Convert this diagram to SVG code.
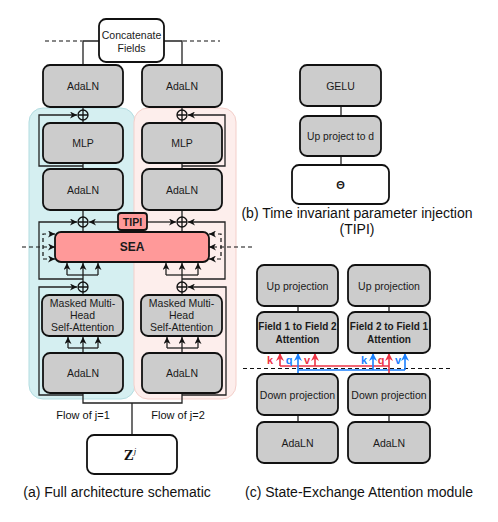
<svg xmlns="http://www.w3.org/2000/svg" width="498" height="522" viewBox="0 0 498 522">
<defs>
<style>
.box{fill:#cccccc;stroke:#111;stroke-width:1.8}
.wbox{fill:#ffffff;stroke:#111;stroke-width:1.8}
.sea{fill:#ff9999;stroke:#111;stroke-width:1.8}
.ln{fill:none;stroke:#222;stroke-width:1.3}
.dash{fill:none;stroke:#111;stroke-width:1.2;stroke-dasharray:4 3}
.red{fill:none;stroke:#ee3344;stroke-width:1.6}
.blue{fill:none;stroke:#1a80ff;stroke-width:1.6}
.t{font-family:"Liberation Sans",Arial,sans-serif;font-size:10.5px;fill:#1a1a1a;text-anchor:middle;dominant-baseline:central}
.tb{font-family:"Liberation Sans",Arial,sans-serif;font-size:10px;font-weight:bold;fill:#1a1a1a;text-anchor:middle;dominant-baseline:central}
.cap{font-family:"Liberation Sans",Arial,sans-serif;font-size:14px;fill:#111;text-anchor:middle;dominant-baseline:central}
.flow{font-family:"Liberation Sans",Arial,sans-serif;font-size:11px;fill:#111;text-anchor:middle;dominant-baseline:central}
.kr{font-family:"Liberation Sans",Arial,sans-serif;font-size:11px;font-weight:bold;fill:#ee3344;text-anchor:middle;dominant-baseline:central}
.kb{font-family:"Liberation Sans",Arial,sans-serif;font-size:11px;font-weight:bold;fill:#1a80ff;text-anchor:middle;dominant-baseline:central}
.plus{fill:none;stroke:#111;stroke-width:1.3}
</style>
<marker id="arr" viewBox="0 0 10 10" refX="10" refY="5" markerWidth="7" markerHeight="7" markerUnits="userSpaceOnUse" orient="auto"><path d="M0,0 L10,5 L0,10 L3,5 z" fill="#111"/></marker>
<marker id="arrR" viewBox="0 0 10 10" refX="10" refY="5" markerWidth="8" markerHeight="8" markerUnits="userSpaceOnUse" orient="auto"><path d="M0,0 L10,5 L0,10 L3,5 z" fill="#ee3344"/></marker>
<marker id="arrB" viewBox="0 0 10 10" refX="10" refY="5" markerWidth="8" markerHeight="8" markerUnits="userSpaceOnUse" orient="auto"><path d="M0,0 L10,5 L0,10 L3,5 z" fill="#1a80ff"/></marker>
<g id="plusSym"><circle cx="0" cy="0" r="5" class="plus"/><path d="M-5,0 H5 M0,-5 V5" class="plus"/></g>
</defs>
<rect width="498" height="522" fill="#ffffff"/>

<!-- backgrounds -->
<g id="bg">
<rect x="29" y="108" width="106" height="291" rx="14" fill="#d5eff1" stroke="#b3dde1" stroke-width="1"/>
<rect x="134" y="108" width="102" height="291" rx="14" fill="#fdeeec" stroke="#f3cfca" stroke-width="1"/>
</g>

<!-- connectors -->
<g id="connectors">
<!-- dashed separators -->
<path class="dash" d="M45,41 H82 M183,41 H220"/>
<path class="dash" d="M22,247 H53"/>
<path class="dash" d="M252,247 H211"/>
<path class="dash" d="M243,368.5 H452"/>
<!-- concatenate -->
<path class="ln" d="M99,41 H83 V65 M164,41 H182 V65"/>
<!-- left column -->
<path class="ln" d="M83,107 V110 M83,120 V123 M83,163 V169 M83,210 V217 M83,227 V232 M83,282 V275 M83,292 V295 M83,353 V348"/>
<path class="ln" d="M83,166 H39 V115 H77" marker-end="url(#arr)"/>
<path class="ln" d="M83,279 H39 V222 H77" marker-end="url(#arr)"/>
<path class="ln" d="M83,395 H39 V287 H77" marker-end="url(#arr)"/>
<path class="ln" d="M118,222 H89" marker-end="url(#arr)"/>
<path class="ln" d="M67,275 H98"/>
<path class="ln" d="M67,275 V263" marker-end="url(#arr)"/>
<path class="ln" d="M83,275 V263" marker-end="url(#arr)"/>
<path class="ln" d="M98,275 V263" marker-end="url(#arr)"/>
<path class="ln" d="M68,348 H98"/>
<path class="ln" d="M68,348 V337" marker-end="url(#arr)"/>
<path class="ln" d="M83,348 V337" marker-end="url(#arr)"/>
<path class="ln" d="M98,348 V337" marker-end="url(#arr)"/>
<!-- left SEA dashed bracket -->
<path class="dash" d="M53,234 H43 V259 H53"/>
<path class="ln" d="M50,234 H55" marker-end="url(#arr)"/>
<path class="ln" d="M50,247 H55" marker-end="url(#arr)"/>
<path class="ln" d="M50,259 H55" marker-end="url(#arr)"/>
<!-- right column -->
<path class="ln" d="M182,107 V110 M182,120 V123 M182,163 V169 M182,210 V217 M182,227 V232 M182,282 V275 M182,292 V295 M182,353 V348"/>
<path class="ln" d="M182,166 H225 V115 H188" marker-end="url(#arr)"/>
<path class="ln" d="M182,279 H225 V222 H188" marker-end="url(#arr)"/>
<path class="ln" d="M182,395 H226 V287 H188" marker-end="url(#arr)"/>
<path class="ln" d="M147,222 H176" marker-end="url(#arr)"/>
<path class="ln" d="M166,275 H198"/>
<path class="ln" d="M166,275 V263" marker-end="url(#arr)"/>
<path class="ln" d="M182,275 V263" marker-end="url(#arr)"/>
<path class="ln" d="M198,275 V263" marker-end="url(#arr)"/>
<path class="ln" d="M167,348 H198"/>
<path class="ln" d="M167,348 V337" marker-end="url(#arr)"/>
<path class="ln" d="M182,348 V337" marker-end="url(#arr)"/>
<path class="ln" d="M198,348 V337" marker-end="url(#arr)"/>
<!-- right SEA dashed bracket -->
<path class="dash" d="M211,234 H221 V259 H211"/>
<path class="ln" d="M214,234 H209" marker-end="url(#arr)"/>
<path class="ln" d="M214,247 H209" marker-end="url(#arr)"/>
<path class="ln" d="M214,259 H209" marker-end="url(#arr)"/>
<!-- bottom merge to Z -->
<path class="ln" d="M83,393 V403 H182 V393 M132,403 V435"/>
<!-- (b) -->
<path class="ln" d="M341,106 V116 M341,156 V165"/>
<!-- (c) -->
<path class="ln" d="M298,306 V312 M389,306 V312 M298,415 V422 M389,415 V422"/>
<path class="red" d="M280,366 H389"/>
<path class="blue" d="M298,370 H405"/>
<path class="red" d="M280,366 V353" marker-end="url(#arrR)"/>
<path class="red" d="M315,366 V353" marker-end="url(#arrR)"/>
<path class="red" d="M389,374 V353" marker-end="url(#arrR)"/>
<path class="blue" d="M298,374 V353" marker-end="url(#arrB)"/>
<path class="blue" d="M373,370 V353" marker-end="url(#arrB)"/>
<path class="blue" d="M405,370 V353" marker-end="url(#arrB)"/>
</g>

<!-- plus symbols -->
<g id="plus-nodes">
<use href="#plusSym" x="83" y="115"/>
<use href="#plusSym" x="182" y="115"/>
<use href="#plusSym" x="83" y="222"/>
<use href="#plusSym" x="182" y="222"/>
<use href="#plusSym" x="83" y="287"/>
<use href="#plusSym" x="182" y="287"/>
</g>

<!-- (a) nodes -->
<g id="concat"><rect class="wbox" x="99" y="19" width="65" height="43" rx="7"/><text class="t" x="131.5" y="35">Concatenate</text><text class="t" x="131.5" y="48">Fields</text></g>
<g id="adaln-top-1"><rect class="box" x="43" y="65" width="80" height="42" rx="7"/><text class="t" x="83" y="86">AdaLN</text></g>
<g id="adaln-top-2"><rect class="box" x="142" y="65" width="80" height="42" rx="7"/><text class="t" x="182" y="86">AdaLN</text></g>
<g id="mlp-1"><rect class="box" x="43" y="123" width="80" height="40" rx="7"/><text class="t" x="83" y="143">MLP</text></g>
<g id="mlp-2"><rect class="box" x="142" y="123" width="80" height="40" rx="7"/><text class="t" x="182" y="143">MLP</text></g>
<g id="adaln-mid-1"><rect class="box" x="43" y="169" width="80" height="41" rx="7"/><text class="t" x="83" y="189.5">AdaLN</text></g>
<g id="adaln-mid-2"><rect class="box" x="142" y="169" width="80" height="41" rx="7"/><text class="t" x="182" y="189.5">AdaLN</text></g>
<g id="tipi"><rect class="sea" x="118" y="213" width="29" height="17" rx="3"/><text class="tb" x="132.5" y="221.5" style="font-size:10.5px">TIPI</text></g>
<g id="sea"><rect class="sea" x="55" y="232" width="154" height="30" rx="6"/><text class="tb" x="132" y="247" style="font-size:12px">SEA</text></g>
<g id="mmhsa-1"><rect class="box" x="42" y="295" width="81" height="41" rx="7"/><text class="t" x="82.5" y="303">Masked Multi-</text><text class="t" x="82.5" y="315">Head</text><text class="t" x="82.5" y="327">Self-Attention</text></g>
<g id="mmhsa-2"><rect class="box" x="141" y="295" width="81" height="41" rx="7"/><text class="t" x="181.5" y="303">Masked Multi-</text><text class="t" x="181.5" y="315">Head</text><text class="t" x="181.5" y="327">Self-Attention</text></g>
<g id="adaln-bot-1"><rect class="box" x="43" y="353" width="80" height="40" rx="7"/><text class="t" x="83" y="373">AdaLN</text></g>
<g id="adaln-bot-2"><rect class="box" x="142" y="353" width="80" height="40" rx="7"/><text class="t" x="182" y="373">AdaLN</text></g>
<g id="flow-labels"><text class="flow" x="83" y="415">Flow of j=1</text><text class="flow" x="178" y="415">Flow of j=2</text></g>
<g id="z"><rect class="wbox" x="87" y="435" width="90" height="39" rx="7"/><text x="130" y="460" font-family="'Liberation Serif','Times New Roman',serif" font-size="15" font-weight="bold" fill="#111" text-anchor="middle">Z<tspan font-size="9" font-style="italic" font-weight="normal" dy="-6">j</tspan></text></g>
<text class="cap" x="117" y="492">(a) Full architecture schematic</text>

<!-- (b) nodes -->
<g id="gelu"><rect class="box" x="300" y="65" width="81" height="41" rx="7"/><text class="t" x="340.5" y="85.5">GELU</text></g>
<g id="upproj-d"><rect class="box" x="300" y="116" width="81" height="40" rx="7"/><text class="t" x="340.5" y="136" style="font-size:10.3px">Up project to d</text></g>
<g id="theta"><rect class="wbox" x="292" y="165" width="97" height="39" rx="7"/><text class="tb" x="340.5" y="184.5" style="font-size:11px">Θ</text></g>
<text class="cap" x="357" y="213">(b) Time invariant parameter injection</text>
<text class="cap" x="357" y="229">(TIPI)</text>

<!-- (c) nodes -->
<g id="up-1"><rect class="box" x="257" y="265" width="81" height="41" rx="7"/><text class="t" x="297.5" y="285.5">Up projection</text></g>
<g id="up-2"><rect class="box" x="348" y="265" width="82" height="41" rx="7"/><text class="t" x="389" y="285.5">Up projection</text></g>
<g id="f12"><rect class="box" x="257" y="312" width="81" height="41" rx="7"/><text class="tb" x="297.5" y="326">Field 1 to Field 2</text><text class="tb" x="297.5" y="339">Attention</text></g>
<g id="f21"><rect class="box" x="348" y="312" width="82" height="41" rx="7"/><text class="tb" x="389" y="326">Field 2 to Field 1</text><text class="tb" x="389" y="339">Attention</text></g>
<g id="kqv-labels">
<text class="kr" x="270" y="360">k</text><text class="kb" x="289" y="360">q</text><text class="kr" x="307" y="360">v</text>
<text class="kb" x="364" y="360">k</text><text class="kr" x="381" y="360">q</text><text class="kb" x="398" y="360">v</text>
</g>
<g id="down-1"><rect class="box" x="257" y="374" width="81" height="41" rx="7"/><text class="t" x="297.5" y="394.5">Down projection</text></g>
<g id="down-2"><rect class="box" x="348" y="374" width="82" height="41" rx="7"/><text class="t" x="389" y="394.5">Down projection</text></g>
<g id="adaln-c1"><rect class="box" x="257" y="422" width="81" height="41" rx="7"/><text class="t" x="297.5" y="442.5">AdaLN</text></g>
<g id="adaln-c2"><rect class="box" x="348" y="422" width="82" height="41" rx="7"/><text class="t" x="389" y="442.5">AdaLN</text></g>
<text class="cap" x="359" y="492">(c) State-Exchange Attention module</text>
</svg>
